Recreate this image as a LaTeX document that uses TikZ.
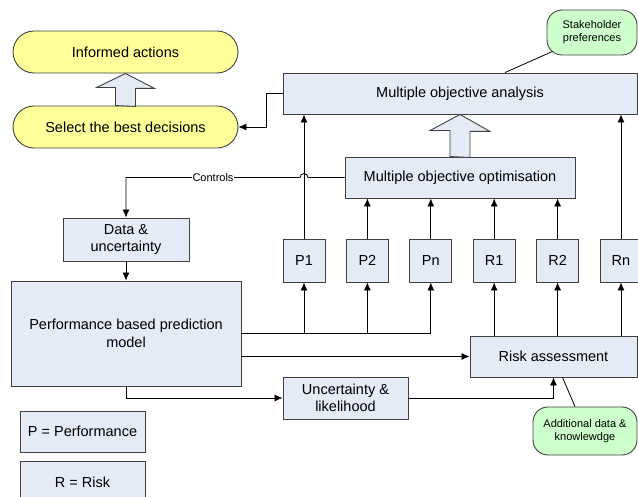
\documentclass[tikz,border=0pt]{standalone}
\usepackage{fontspec}
\setmainfont{Liberation Sans}
\usetikzlibrary{positioning,arrows.meta,calc}

\definecolor{boxblue}{RGB}{228,234,246}
\definecolor{pillyellow}{RGB}{255,255,153}
\definecolor{notegreen}{RGB}{204,255,204}
\definecolor{edgegrey}{RGB}{64,64,64}

\tikzset{
  box/.style={draw=edgegrey, fill=boxblue, line width=0.9pt, inner sep=0pt, align=center,
              font=\fontsize{14.5}{17.5}\selectfont},
  pill/.style={box, fill=pillyellow, rounded corners=21pt, minimum width=225pt, minimum height=42pt},
  note/.style={box, fill=notegreen, rounded corners=15pt, font=\fontsize{11}{13}\selectfont},
  pbox/.style={box, minimum width=42pt, minimum height=43pt},
  fat/.style={draw=edgegrey, fill=boxblue, line width=0.9pt, line join=miter}
}

\begin{document}
\begin{tikzpicture}[x=1pt, y=-1pt, line width=0.8pt, >={Latex[length=8pt,width=7pt]}]
   \useasboundingbox (0,0) rectangle (638,497);

   \node[pill] (act) at (125.5,52)  {Informed actions};
   \node[pill] (sel) at (125.5,127) {Select the best decisions};
   \node[box, minimum width=354pt, minimum height=41pt] (moa) at (460,93.5) {Multiple objective analysis};
   \node[note, minimum width=90pt, minimum height=45pt] (stk) at (592,32.5) {Stakeholder\\preferences};
   \node[box, minimum width=230pt, minimum height=41pt] (moo) at (460,177.5) {Multiple objective optimisation};
   \node[box, minimum width=126pt, minimum height=43pt] (dat) at (126,239.5) {Data \&\\uncertainty};
   \node[box, minimum width=230pt, minimum height=105pt] (pbm) at (126,333.5) {Performance based prediction\\model};

   \node[pbox] (p1) at (304,260.5) {P1};
   \node[pbox] (p2) [right=20.5pt of p1] {P2};
   \node[pbox] (pn) [right=20.5pt of p2] {Pn};
   \node[pbox] (r1) [right=20.5pt of pn] {R1};
   \node[pbox] (r2) [right=20.5pt of r1] {R2};
   \node[pbox] (rn) [right=20.5pt of r2] {Rn};

   \node[box, minimum width=167pt, minimum height=41pt] (ra)  at (553.5,356.5) {Risk assessment};
   \node[box, minimum width=125pt, minimum height=42pt] (unc) at (345.5,398) {Uncertainty \&\\likelihood};
   \node[note, minimum width=104pt, minimum height=48pt] (add) at (585,431) {Additional data \&\\knowlewdge};
   \node[box, minimum width=125pt, minimum height=41pt] (lp) at (82.5,431.5) {P = Performance};
   \node[box, minimum width=125pt, minimum height=41pt] (lr) [below=9pt of lp] {R = Risk};

   \draw[fat] ([xshift=-10pt]sel.north) -- ++(0,-18) -- ++(-19,0) -- (act.south)
              -- ++(29,15) -- ++(-19,0) -- ++(0,18) -- cycle;
   \draw[fat] ([xshift=-10pt]moo.north) -- ++(0,-26) -- ++(-20,0) -- (moa.south)
              -- ++(30,17) -- ++(-20,0) -- ++(0,26) -- cycle;

   \draw[->] (moa.west) -- ++(-16,0) |- (sel.east);
   \draw ([shift={(6,-4)}]stk.south west) -- ([xshift=45pt]moa.north);
   \draw[->] (moo.west) -- ($(p1.north |- moo.west)+(4,0)$)
             arc[start angle=0, end angle=180, radius=4pt]
             -| (dat.north) node[pos=0.25, fill=white, inner sep=1pt, font=\fontsize{11}{13}\selectfont] {Controls};
   \draw[->] (dat.south) -- (pbm.north);

   \draw (pbm.east) -- (pbm.east -| pn.south);
   \foreach \p in {p1,p2,pn}
      \draw[->] (pbm.east -| \p.south) -- (\p.south);
   \foreach \r in {r1,r2,rn}
      \draw[->] (ra.north -| \r.south) -- (\r.south);
   \foreach \p in {p2,pn,r1,r2}
      \draw[->] (\p.north) -- (\p.north |- moo.south);
   \draw[->] (p1.north) -- (p1.north |- moa.south);
   \draw[->] (rn.north) -- (rn.north |- moa.south);

   \draw[->] (pbm.east |- ra.west) -- (ra.west);
   \draw[->] (pbm.south) |- (unc.west);
   \draw[->] (unc.east) -| (ra.south);
   \draw ([xshift=-10pt]add.north) -- ([xshift=9pt]ra.south);
\end{tikzpicture}
\end{document}
